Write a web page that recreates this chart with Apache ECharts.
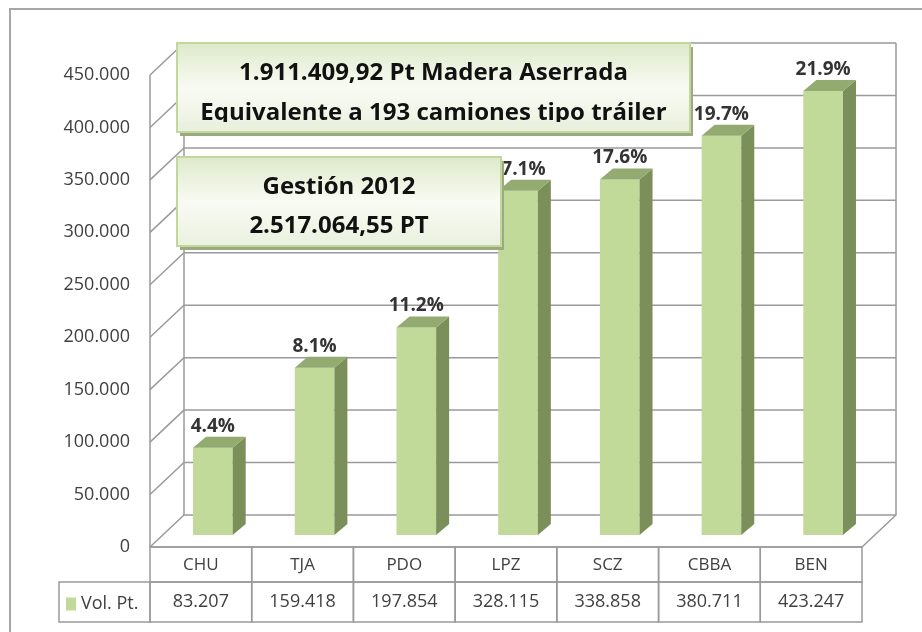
<!DOCTYPE html>
<html>
<head>
<meta charset="utf-8">
<script src="https://cdn.jsdelivr.net/npm/echarts@6/dist/echarts.min.js"></script>
<style>
  html, body { margin: 0; padding: 0; background: #fff; }
  #main { width: 922px; height: 632px; }
</style>
</head>
<body>
<div id="main"></div>
<script>
// datos del grafico
var categorias = ['CHU', 'TJA', 'PDO', 'LPZ', 'SCZ', 'CBBA', 'BEN'];
var volumenes = [83207, 159418, 197854, 328115, 338858, 380711, 423247];
var porcentajes = ['4.4%', '8.1%', '11.2%', '17.1%', '17.6%', '19.7%', '21.9%'];
var ticksY = [0, 50000, 100000, 150000, 200000, 250000, 300000, 350000, 400000, 450000];
var nombreSerie = 'Vol. Pt.';
var texto1 = ['1.911.409,92 Pt Madera Aserrada', 'Equivalente a 193 camiones tipo tráiler'];
var texto2 = ['Gestión 2012', '2.517.064,55 PT'];

var FONT = 'Open Sans';
var GRIS = '#9a9a9a';
var DX = 34, DY = -32;     // profundidad de la pared del fondo
var BX = 12, BY = -12;     // posicion de la cara frontal de la barra
var SX = 13, SY = -11;     // grosor lateral de la barra

function miles(v) {
    return String(v).replace(/\B(?=(\d{3})+(?!\d))/g, '.');
}

var myChart = echarts.init(document.getElementById('main'));

// paredes y lineas de division (estilo 3D)
function renderPared(params, api) {
    var cs = params.coordSys;
    var v = api.value(1);
    var y = api.coord([0, v])[1];
    var xl = cs.x, xr = cs.x + cs.width;
    var hijos = [{
        type: 'polyline',
        shape: { points: [[xl, y], [xl + DX, y + DY], [xr + DX, y + DY]] },
        style: { stroke: GRIS, lineWidth: 1.5, fill: null }
    }];
    if (v === 0) {
        var yTop = api.coord([0, ticksY[ticksY.length - 1]])[1];
        hijos.push({
            type: 'polyline',
            shape: { points: [[xl, y], [xr, y], [xr + DX, y + DY], [xr + DX, yTop + DY]] },
            style: { stroke: GRIS, lineWidth: 1.5, fill: null }
        });
        hijos.push({
            type: 'line',
            shape: { x1: xl, y1: y, x2: xl, y2: yTop },
            style: { stroke: GRIS, lineWidth: 1.5 }
        });
        hijos.push({
            type: 'line',
            shape: { x1: xl + DX, y1: y + DY, x2: xl + DX, y2: yTop + DY },
            style: { stroke: GRIS, lineWidth: 1.5 }
        });
    }
    return { type: 'group', children: hijos };
}

// barras con cara frontal, lateral y superior
function renderBarra(params, api) {
    var i = api.value(0);
    var p0 = api.coord([i, 0]);
    var p1 = api.coord([i, api.value(1)]);
    var w = api.size([1, 0])[0] * 0.39;
    var cx = p0[0] + BX;
    var xL = cx - w / 2, xR = cx + w / 2;
    var yB = p0[1] + BY, yT = p1[1] + BY;
    return {
        type: 'group',
        children: [{
            type: 'rect',
            shape: { x: xL, y: yT, width: w, height: yB - yT },
            style: { fill: '#c1da9a' }
        }, {
            type: 'polygon',
            shape: { points: [[xR, yT], [xR + SX, yT + SY], [xR + SX, yB + SY], [xR, yB]] },
            style: { fill: '#7a8f5a' }
        }, {
            type: 'polygon',
            shape: { points: [[xL, yT], [xR, yT], [xR + SX, yT + SY], [xL + SX, yT + SY]] },
            style: { fill: '#93ab70' }
        }, {
            type: 'text',
            style: {
                text: porcentajes[i],
                x: cx, y: yT + SY - 1,
                align: 'center', verticalAlign: 'bottom',
                font: 'bold 19px "' + FONT + '"', fill: '#333'
            }
        }]
    };
}

// tabla de datos debajo del grafico
function renderTabla(params, api) {
    var cs = params.coordSys;
    var i = api.value(0);
    var bw = api.size([1, 0])[0];
    var x = api.coord([i, 0])[0] - bw / 2;
    var y0 = cs.y + cs.height;
    var h1 = 35, h2 = 40;
    return {
        type: 'group',
        children: [{
            type: 'rect',
            shape: { x: x, y: y0, width: bw, height: h1 },
            style: { fill: null, stroke: GRIS, lineWidth: 1.5 }
        }, {
            type: 'rect',
            shape: { x: x, y: y0 + h1, width: bw, height: h2 },
            style: { fill: null, stroke: GRIS, lineWidth: 1.5 }
        }, {
            type: 'text',
            style: {
                text: categorias[i], x: x + bw / 2, y: y0 + h1 / 2 + 1,
                align: 'center', verticalAlign: 'middle',
                font: '17px "' + FONT + '"', fill: '#404040'
            }
        }, {
            type: 'text',
            style: {
                text: miles(api.value(1)), x: x + bw / 2, y: y0 + h1 + h2 / 2,
                align: 'center', verticalAlign: 'middle',
                font: '18px "' + FONT + '"', fill: '#404040'
            }
        }]
    };
}

// cuadro de texto con sombra (elementos sueltos, encima de todo)
function cajaTexto(x, y, w, h, lineas, dy2, tapar) {
    var els = [{
        type: 'rect', z: 100,
        shape: { x: x + 3, y: y + 4, width: w, height: h },
        style: { fill: '#9aab80' }
    }, {
        type: 'rect', z: 101,
        shape: { x: x, y: y, width: w, height: h },
        style: {
            fill: new echarts.graphic.LinearGradient(0, 0, 0, 1, [
                { offset: 0, color: '#dde9c9' },
                { offset: 0.5, color: '#f8fbf3' },
                { offset: 1, color: '#eaf1df' }
            ]),
            stroke: '#c3d69b', lineWidth: 2
        }
    }];
    lineas.forEach(function (t, k) {
        els.push({
            type: 'text', z: 102,
            style: {
                text: t, x: x + w / 2, y: y + 30 + k * dy2,
                align: 'center', verticalAlign: 'middle',
                font: 'bold 24px "' + FONT + '"', fill: '#111'
            }
        });
    });
    if (tapar) {
        els.push({
            type: 'rect', z: 103,
            shape: { x: x + 1, y: y + 79, width: w - 2, height: h - 80 },
            style: { fill: '#eaf1df' }
        });
    }
    return els;
}

var graficos = [{
    type: 'polyline', z: 1,
    shape: { points: [[922, 9], [10, 9], [10, 632]] },
    style: { stroke: '#a6a6a6', lineWidth: 2, fill: null }
}, {
    // celda de la leyenda en la tabla
    type: 'rect', z: 2,
    shape: { x: 59, y: 582, width: 91, height: 40 },
    style: { fill: null, stroke: GRIS, lineWidth: 1.5 }
}].concat(
    cajaTexto(177, 43, 513, 89, texto1, 40, true),
    cajaTexto(177, 157, 324, 89, texto2, 39, false)
);

var option = {
    animation: false,
    textStyle: { fontFamily: FONT },
    grid: { left: 150, right: 60, top: 75, bottom: 85 },
    legend: {
        data: [{ name: nombreSerie, icon: 'rect' }],
        left: 66, top: 595,
        padding: 0,
        itemWidth: 10, itemHeight: 13, itemGap: 4,
        selectedMode: false,
        textStyle: { fontSize: 18, color: '#404040', fontFamily: FONT }
    },
    xAxis: {
        type: 'category',
        data: categorias,
        axisLine: { show: false },
        axisTick: { show: false },
        axisLabel: { show: false }
    },
    yAxis: {
        type: 'value',
        min: 0, max: 450000, interval: 50000,
        axisLine: { show: false },
        axisTick: { show: false },
        splitLine: { show: false },
        axisLabel: {
            margin: 20,
            fontSize: 18,
            color: '#404040',
            formatter: miles
        }
    },
    graphic: graficos,
    series: [{
        name: 'pared',
        type: 'custom',
        silent: true,
        z: 1,
        renderItem: renderPared,
        data: ticksY.map(function (t) { return [0, t]; })
    }, {
        name: nombreSerie,
        type: 'custom',
        z: 3,
        itemStyle: { color: '#c1da9a' },
        renderItem: renderBarra,
        data: volumenes.map(function (v, i) { return [i, v]; })
    }, {
        name: 'tabla',
        type: 'custom',
        silent: true,
        z: 2,
        renderItem: renderTabla,
        data: volumenes.map(function (v, i) { return [i, v]; })
    }]
};

myChart.setOption(option);
</script>
</body>
</html>
